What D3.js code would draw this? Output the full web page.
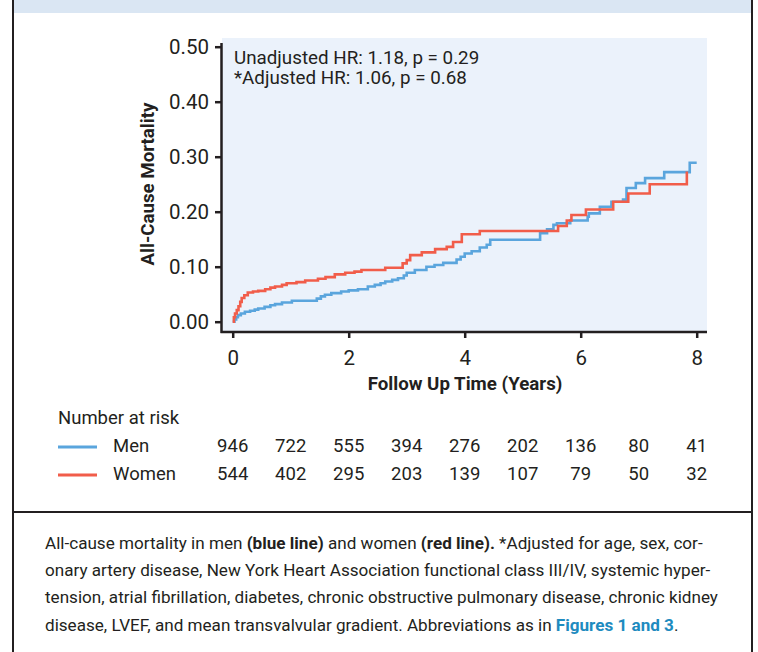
<!DOCTYPE html>
<html>
<head>
<meta charset="utf-8">
<script src="https://cdn.jsdelivr.net/npm/d3@7"></script>
<style>
  body { margin: 0; background: #fff; }
  svg { display: block; font-family: Roboto, "Noto Sans", sans-serif; }
</style>
</head>
<body>
<div id="my_chart"></div>
<script>
// cumulative all-cause mortality (years, proportion)
const menTime = [0, 0.03, 0.06, 0.09, 0.14, 0.21, 0.30, 0.38, 0.44, 0.55, 0.65, 0.73, 0.85, 1.02,
  1.45, 1.52, 1.59, 1.70, 1.87, 2.00, 2.16, 2.33, 2.45, 2.55, 2.63, 2.75, 2.85, 2.95, 3.00, 3.14,
  3.34, 3.48, 3.63, 3.86, 3.93, 4.00, 4.12, 4.26, 4.38, 4.44, 5.30, 5.42, 5.53, 5.59, 5.82, 6.12,
  6.14, 6.33, 6.53, 6.73, 6.79, 6.95, 7.11, 7.44, 7.88, 8.00];
const menMort = [0, 0.004, 0.008, 0.012, 0.015, 0.018, 0.020, 0.022, 0.024, 0.027, 0.030, 0.032, 0.035, 0.038,
  0.042, 0.046, 0.049, 0.052, 0.055, 0.057, 0.059, 0.064, 0.067, 0.070, 0.073, 0.076, 0.079, 0.084, 0.089, 0.094,
  0.100, 0.103, 0.107, 0.113, 0.118, 0.124, 0.128, 0.135, 0.140, 0.149, 0.161, 0.168, 0.176, 0.179, 0.184, 0.191,
  0.197, 0.209, 0.218, 0.222, 0.243, 0.252, 0.261, 0.272, 0.289, 0.289];

const womenTime = [0, 0.02, 0.04, 0.07, 0.10, 0.13, 0.155, 0.20, 0.26, 0.35, 0.44, 0.56, 0.65, 0.73, 0.85,
  0.93, 1.10, 1.25, 1.47, 1.60, 1.76, 1.94, 2.10, 2.22, 2.63, 2.93, 3.00, 3.06, 3.26, 3.49, 3.69, 3.80,
  3.95, 4.26, 5.61, 5.76, 5.84, 6.09, 6.56, 6.82, 7.19, 7.83];
const womenMort = [0, 0.008, 0.015, 0.021, 0.028, 0.036, 0.043, 0.048, 0.053, 0.055, 0.056, 0.059, 0.062, 0.064, 0.067,
  0.070, 0.072, 0.075, 0.078, 0.081, 0.086, 0.089, 0.091, 0.094, 0.098, 0.106, 0.112, 0.121, 0.126, 0.132, 0.136, 0.145,
  0.159, 0.165, 0.174, 0.184, 0.194, 0.204, 0.218, 0.233, 0.250, 0.273];

const xTicks = [0, 2, 4, 6, 8];
const yTicks = [0, 0.1, 0.2, 0.3, 0.4, 0.5];

// number at risk table
const riskYears = [0, 1, 2, 3, 4, 5, 6, 7, 8];
const menAtRisk = [946, 722, 555, 394, 276, 202, 136, 80, 41];
const womenAtRisk = [544, 402, 295, 203, 139, 107, 79, 50, 32];

const hrLines = ["Unadjusted HR: 1.18, p = 0.29", "*Adjusted HR: 1.06, p = 0.68"];

const captionLines = [
  [["All-cause mortality in men ", ""], ["(blue line)", "b"], [" and women ", ""], ["(red line).", "b"], [" *Adjusted for age, sex, cor-", ""]],
  [["onary artery disease, New York Heart Association functional class III/IV, systemic hyper-", ""]],
  [["tension, atrial fibrillation, diabetes, chronic obstructive pulmonary disease, chronic kidney", ""]],
  [["disease, LVEF, and mean transvalvular gradient. Abbreviations as in ", ""], ["Figures 1 and 3", "link"], [".", ""]]
];

const blue = "#5aa5dd", red = "#f15d4a", ink = "#231f20";

drawChart();

function drawChart() {
  const width = 758, height = 652;
  const plot = {left: 222, right: 707, top: 38, bottom: 331};

  const svg = d3.select("#my_chart")
    .append("svg")
    .attr("width", width)
    .attr("height", height);

  // frame and header strip
  svg.append("rect")
    .attr("x", 13).attr("y", 0)
    .attr("width", 739).attr("height", 13)
    .attr("fill", "#dae6f3");
  svg.append("path")
    .attr("d", "M13,0V652M752,0V652M13,512H752")
    .attr("stroke", ink)
    .attr("stroke-width", 2)
    .attr("fill", "none");

  const x = d3.scaleLinear().domain([0, 8]).range([232.7, 696.7]);
  const y = d3.scaleLinear().domain([0, 0.5]).range([321.7, 46.7]);

  // plot background
  svg.append("rect")
    .attr("x", plot.left).attr("y", plot.top)
    .attr("width", plot.right - plot.left)
    .attr("height", plot.bottom - plot.top)
    .attr("fill", "#ebf2fb");

  // Y axis
  svg.append("g")
    .attr("transform", `translate(${plot.left},0)`)
    .call(d3.axisLeft(y).tickValues(yTicks).tickFormat(d3.format(".2f")).tickSize(7).tickSizeOuter(0).tickPadding(6))
    .attr("font-family", null)
    .attr("font-size", 20.5)
    .call(g => g.select(".domain").remove())
    .call(g => g.selectAll("line").attr("stroke", ink).attr("stroke-width", 2.5))
    .call(g => g.selectAll("text").attr("fill", ink));

  // X axis
  svg.append("g")
    .attr("transform", `translate(0,${plot.bottom + 1})`)
    .call(d3.axisBottom(x).tickValues(xTicks).tickSize(6).tickSizeOuter(0).tickPadding(12))
    .attr("font-family", null)
    .attr("font-size", 20.5)
    .call(g => g.select(".domain").remove())
    .call(g => g.selectAll("line").attr("stroke", ink).attr("stroke-width", 2.5))
    .call(g => g.selectAll("text").attr("fill", ink));

  // axis lines
  svg.append("path")
    .attr("d", `M${plot.left - 0.5},43V${plot.bottom + 2}M${plot.left - 1.5},${plot.bottom + 1}H${plot.right}`)
    .attr("stroke", ink)
    .attr("stroke-width", 2.5)
    .attr("fill", "none");

  // axis titles
  svg.append("text")
    .attr("x", 465).attr("y", 390)
    .attr("text-anchor", "middle")
    .attr("font-weight", "bold")
    .attr("font-size", 18.7)
    .attr("fill", ink)
    .text("Follow Up Time (Years)");
  svg.append("text")
    .attr("transform", "translate(154,184)rotate(-90)")
    .attr("text-anchor", "middle")
    .attr("font-weight", "bold")
    .attr("font-size", 18.7)
    .attr("fill", ink)
    .text("All-Cause Mortality");

  // step curves
  const line = d3.line()
    .x(d => x(d[0]))
    .y(d => y(d[1]))
    .curve(d3.curveStepAfter);

  const series = [
    {time: menTime, mort: menMort, color: blue},
    {time: womenTime, mort: womenMort, color: red}
  ];

  svg.selectAll(".km")
    .data(series)
    .join("path")
    .attr("class", "km")
    .attr("d", s => line(s.time.map((t, i) => [t, s.mort[i]])))
    .attr("fill", "none")
    .attr("stroke", s => s.color)
    .attr("stroke-width", 2.6);

  // hazard ratios
  svg.selectAll(".hr")
    .data(hrLines)
    .join("text")
    .attr("class", "hr")
    .attr("x", 234)
    .attr("y", (d, i) => 64 + i * 20)
    .attr("font-size", 18.8)
    .attr("fill", ink)
    .text(d => d);

  // number at risk
  svg.append("text")
    .attr("x", 58).attr("y", 424)
    .attr("font-size", 18.5)
    .attr("fill", ink)
    .text("Number at risk");

  const rows = [
    {name: "Men", values: menAtRisk, color: blue, y: 452},
    {name: "Women", values: womenAtRisk, color: red, y: 480}
  ];

  const row = svg.selectAll(".risk")
    .data(rows)
    .join("g")
    .attr("class", "risk");

  row.append("line")
    .attr("x1", 58).attr("x2", 97)
    .attr("y1", d => d.y - 5).attr("y2", d => d.y - 5)
    .attr("stroke", d => d.color)
    .attr("stroke-width", 3);

  row.append("text")
    .attr("x", 113).attr("y", d => d.y)
    .attr("font-size", 18.5)
    .attr("fill", ink)
    .text(d => d.name);

  row.selectAll(".n")
    .data(d => d.values.map((v, i) => ({v: v, yr: riskYears[i], y: d.y})))
    .join("text")
    .attr("class", "n")
    .attr("x", d => x(d.yr))
    .attr("y", d => d.y)
    .attr("text-anchor", "middle")
    .attr("font-size", 18.5)
    .attr("fill", ink)
    .text(d => d.v);

  // caption
  const cap = svg.append("g")
    .attr("font-size", 17.1)
    .attr("fill", ink);

  captionLines.forEach((segs, i) => {
    const t = cap.append("text")
      .attr("x", 45)
      .attr("y", 549 + i * 27.2);
    segs.forEach(s => {
      t.append("tspan")
        .attr("font-weight", s[1] ? "bold" : null)
        .attr("fill", s[1] == "link" ? "#1e8bbf" : null)
        .text(s[0]);
    });
  });
}
</script>
</body>
</html>
